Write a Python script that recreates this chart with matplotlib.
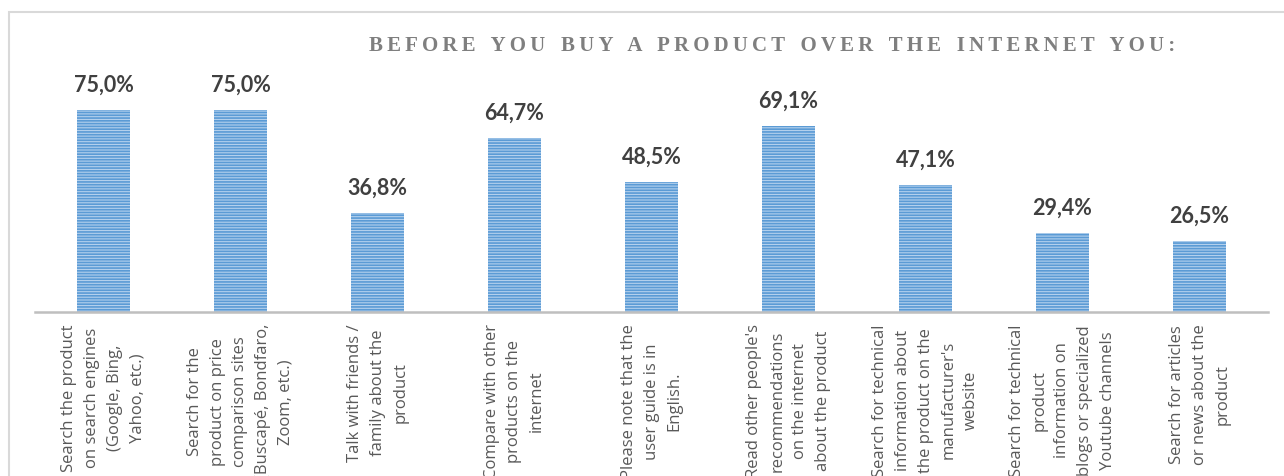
import matplotlib

matplotlib.use("Agg")
import matplotlib.pyplot as plt
from matplotlib.patches import Rectangle

TITLE = "BEFORE YOU BUY A PRODUCT OVER THE INTERNET YOU:"
CATEGORIES = [
    "Search the product\non search engines\n(Google, Bing,\nYahoo, etc.)",
    "Search for the\nproduct on price\ncomparison sites\n(Buscapé, Bondfaro,\nZoom, etc.)",
    "Talk with friends /\nfamily about the\nproduct",
    "Compare with other\nproducts on the\ninternet",
    "Please note that the\nuser guide is in\nEnglish.",
    "Read other people's\nrecommendations\non the internet\nabout the product",
    "Search for technical\ninformation about\nthe product on the\nmanufacturer's\nwebsite",
    "Search for technical\nproduct\ninformation on\nblogs or specialized\nYoutube channels",
    "Search for articles\nor news about the\nproduct",
]
VALUES = [75.0, 75.0, 36.8, 64.7, 48.5, 69.1, 47.1, 29.4, 26.5]

W, H = 1284, 477
plt.rcParams["hatch.linewidth"] = 1.2

fig = plt.figure(figsize=(W / 100, H / 100), dpi=100)
ax = fig.add_axes([35 / W, 164 / H, 1233 / W, 215 / H])

xs = list(range(len(VALUES)))
ax.bar(xs, VALUES, width=0.39, color="#b3d0ed", edgecolor="#5b9bd5",
       linewidth=0, hatch="------")
for x, v in zip(xs, VALUES):
    ax.annotate(f"{v:.1f}%".replace(".", ","), (x, v), xytext=(0, 11),
                textcoords="offset points", ha="center", va="bottom",
                fontsize=15.5, fontweight="bold", family="Lato", color="#404040")

ax.set_xlim(-0.5, len(VALUES) - 0.5)
ax.set_ylim(0, 80)
ax.set_yticks([])
ax.set_xticks(xs)
ax.set_xticklabels(CATEGORIES, rotation=90, ha="center", va="top",
                   multialignment="center", fontsize=12, family="Open Sans",
                   color="#595959", linespacing=1.56)
ax.tick_params(axis="x", length=0, pad=8)
for s in ("left", "right", "top"):
    ax.spines[s].set_visible(False)
ax.spines["bottom"].set_color("#bfbfbf")
ax.spines["bottom"].set_linewidth(1.8)

# letter-spaced heading
spaced = "\u2009".join(TITLE).replace("\u2009 \u2009", "   ")
fig.text(772 / W, 1 - 46 / H, spaced, ha="center", va="center",
         fontsize=15, fontweight="bold", family="Liberation Serif",
         color="#7f7f7f")

# chart border, open to the right and bottom edges
fig.patches.append(Rectangle((9 / W, -0.1), 1.2, 1.1 - 13 / H,
                             transform=fig.transFigure, fill=False,
                             edgecolor="#d9d9d9", linewidth=1.5))

fig.savefig("out.png", dpi=100)
